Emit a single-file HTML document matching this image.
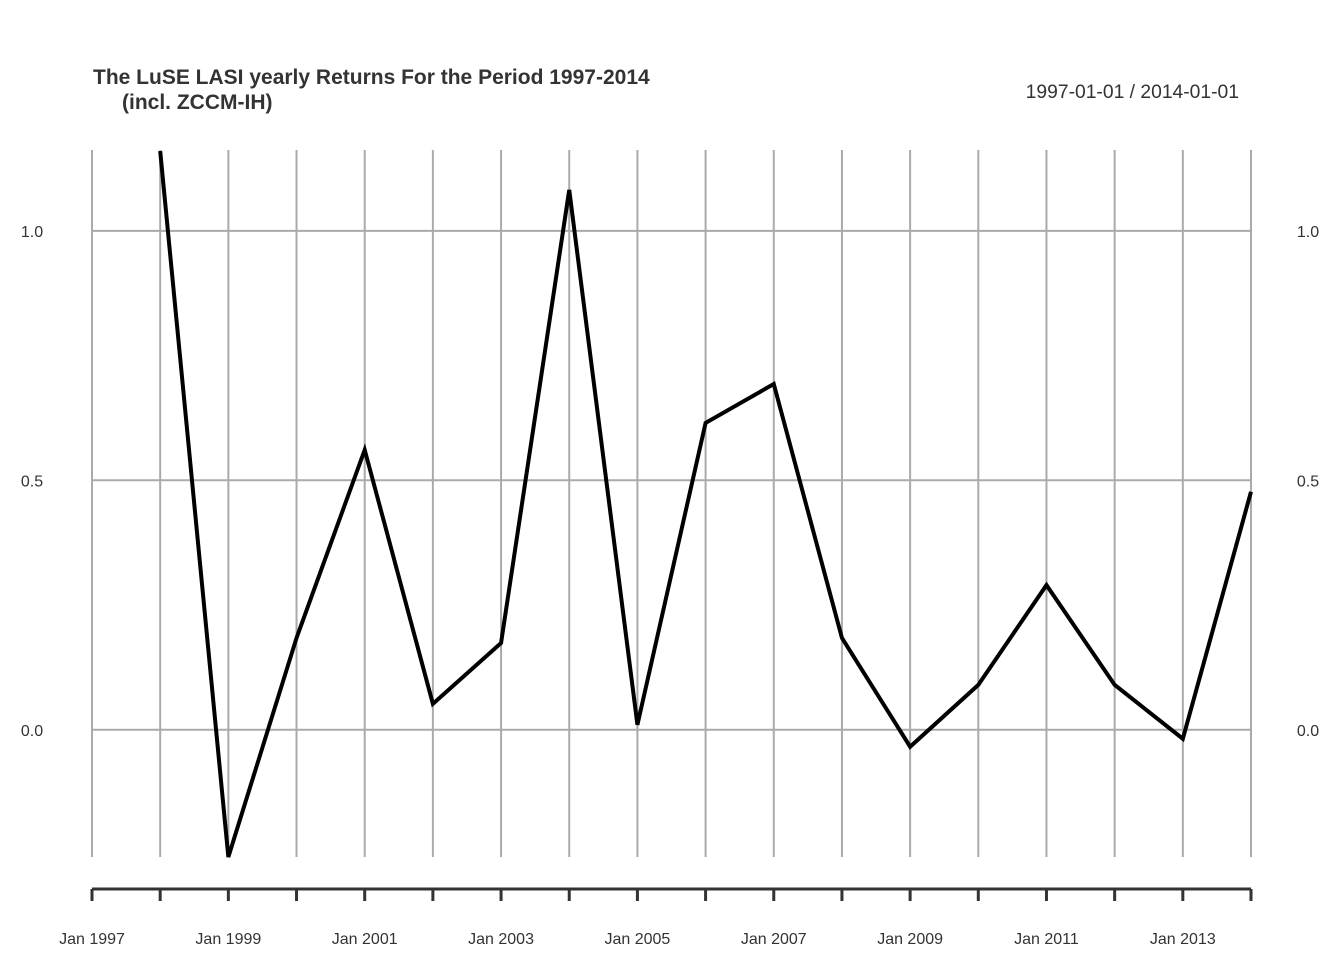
<!DOCTYPE html>
<html><head><meta charset="utf-8"><style>
body{margin:0;background:#fff;}
svg text{font-family:"Liberation Sans",Arial,sans-serif;}
</style></head><body>
<svg id="chart" width="1344" height="960" xmlns="http://www.w3.org/2000/svg">
<text x="93" y="84" font-size="21" font-weight="bold" fill="#333">The LuSE LASI yearly Returns For the Period 1997-2014</text>
<text x="122" y="109" font-size="21" font-weight="bold" fill="#333">(incl. ZCCM-IH)</text>
<text x="1239" y="98" font-size="19.3" fill="#333" text-anchor="end">1997-01-01 / 2014-01-01</text>
<g id="grid"></g><g id="axes"></g><g id="series"></g>
</svg>
<script>
const years=[1998,1999,2000,2001,2002,2003,2004,2005,2006,2007,2008,2009,2010,2011,2012,2013,2014];
const returns=[1.16,-0.255,0.184,0.561,0.052,0.174,1.082,0.01,0.615,0.693,0.184,-0.034,0.09,0.29,0.09,-0.018,0.477];
const yTicks=[0,0.5,1.0];
const yTickLabels=["0.0","0.5","1.0"];
const xStart=1997,xEnd=2014;
const ns="http://www.w3.org/2000/svg";
const L=92,R=1251,T=150,B=857;
const yMin=-0.255,yMax=1.162;
function xs(v){return L+(v-xStart)/(xEnd-xStart)*(R-L);}
function ys(v){return B-(v-yMin)/(yMax-yMin)*(B-T);}
function mk(t,a,p){const e=document.createElementNS(ns,t);for(const k in a)e.setAttribute(k,a[k]);p.appendChild(e);return e;}
const g=document.getElementById('grid'),ax=document.getElementById('axes'),s=document.getElementById('series');
for(let yr=xStart;yr<=xEnd;yr++){
 const x=xs(yr);
 const gl=mk('line',{x1:x,x2:x,y1:T,y2:B,stroke:'#aaa','stroke-width':2},g);
 
 
 const tk=mk('line',{x1:x,x2:x,y1:889,y2:901,stroke:'#333','stroke-width':3},ax);
 
 
 if((yr-xStart)%2===0){
  const t=mk('text',{x:x,y:944,'font-size':16,fill:'#333','text-anchor':'middle'},ax);
  t.textContent='Jan '+yr;
  
  
 }
}
const al=mk('line',{x1:L,x2:R,y1:889,y2:889,stroke:'#333','stroke-width':3},ax);


yTicks.forEach((v,i)=>{
 const y=ys(v);
 const gl=mk('line',{x1:L,x2:R,y1:y,y2:y,stroke:'#aaa','stroke-width':2},g);
 
 
 const t1=mk('text',{x:32,y:y+6,'font-size':16,fill:'#333','text-anchor':'middle'},ax);
 t1.textContent=yTickLabels[i];
 
 
 const t2=mk('text',{x:1308,y:y+6,'font-size':16,fill:'#333','text-anchor':'middle'},ax);
 t2.textContent=yTickLabels[i];
 
 
});
const pts=years.map((yr,i)=>xs(yr)+','+ys(returns[i])).join(' ');
const pl=mk('polyline',{points:pts,fill:'none',stroke:'#000','stroke-width':4,'stroke-linejoin':'miter'},s);


</script>
</body></html>
